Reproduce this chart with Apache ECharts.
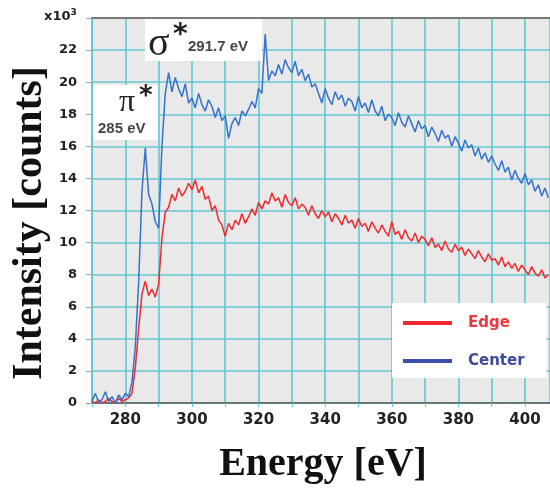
<!DOCTYPE html>
<html>
<head>
<meta charset="utf-8">
<script src="https://cdn.jsdelivr.net/npm/echarts@6/dist/echarts.min.js"></script>
<style>
html,body{margin:0;padding:0;background:#fff;}
#main{width:550px;height:488px;}
</style>
</head>
<body>
<div id="main"></div>
<script>
// Energy axis values (eV)
var energy = [270,271,272,273,274,275,276,277,278,279,280,281,282,283,284,285,286,287,288,289,
290,291,292,293,294,295,296,297,298,299,300,301,302,303,304,305,306,307,308,309,
310,311,312,313,314,315,316,317,318,319,320,321,322,323,324,325,326,327,328,329,
330,331,332,333,334,335,336,337,338,339,340,341,342,343,344,345,346,347,348,349,
350,351,352,353,354,355,356,357,358,359,360,361,362,363,364,365,366,367,368,369,
370,371,372,373,374,375,376,377,378,379,380,381,382,383,384,385,386,387,388,389,
390,391,392,393,394,395,396,397,398,399,400,401,402,403,404,405,406,407];

// Center intensity (x10^3 counts)
var center = [
0.1,0.6,0.0,0.2,0.7,0.1,0.4,0.0,0.5,0.2,
0.6,0.4,1.3,3.5,7.5,13.2,15.9,13.0,12.4,11.3,
10.9,16.0,19.3,20.6,19.4,20.3,19.6,19.1,19.9,18.7,
19.0,18.4,19.3,18.6,18.2,18.9,18.5,17.8,18.4,17.6,
17.9,16.5,17.4,17.8,17.3,18.2,17.9,18.3,18.8,18.4,
19.6,19.3,23.0,20.1,20.7,20.4,21.1,20.5,21.4,20.9,
20.6,21.3,20.4,20.8,20.1,20.5,19.7,19.9,19.3,18.7,
19.6,19.0,18.6,19.4,18.9,19.2,18.5,19.0,18.8,18.2,
19.1,18.4,18.7,18.1,18.9,18.2,17.9,18.5,17.6,18.0,
17.8,17.3,18.1,17.5,17.2,17.9,17.4,16.9,17.6,17.1,
17.3,16.6,17.2,16.8,16.3,17.0,16.5,16.7,16.0,16.6,
16.2,15.7,16.4,15.9,16.1,15.4,15.9,15.2,15.6,15.0,
15.4,14.9,14.5,15.1,14.4,14.7,13.9,14.5,14.0,13.7,
14.3,13.6,13.9,13.2,13.6,12.9,13.4,12.8];

// Edge intensity (x10^3 counts)
var edge = [
0.1,0.0,0.2,0.0,0.1,0.3,0.1,0.0,0.3,0.1,
0.2,0.3,0.6,2.2,4.6,6.8,7.6,6.7,7.1,6.6,
7.4,10.3,11.9,12.2,13.0,12.6,13.4,12.9,13.2,13.7,
13.3,13.9,13.1,13.5,12.7,12.9,12.0,12.3,11.4,11.1,
10.4,11.2,10.8,11.4,11.1,11.8,11.2,11.6,12.1,11.7,
12.5,12.1,12.6,12.4,13.1,12.6,12.8,12.2,13.0,12.5,
12.3,12.8,12.1,12.4,12.2,11.7,12.3,11.8,11.5,12.0,
11.6,11.9,11.3,11.8,11.5,11.1,11.7,11.2,11.4,10.9,
11.5,11.0,11.2,10.7,11.3,10.9,10.6,11.1,10.7,10.4,
11.3,10.5,10.7,10.2,10.8,10.3,10.1,10.6,10.0,10.4,
10.2,9.8,10.3,9.7,9.9,9.5,10.1,9.6,9.4,9.9,
9.5,9.7,9.2,9.6,9.3,9.0,9.5,9.1,8.8,9.3,
8.9,9.0,8.6,9.1,8.5,8.8,8.4,8.7,8.2,8.6,
8.3,8.0,8.5,8.1,7.9,8.3,7.8,8.0];

var seriesNames = ['Edge', 'Center'];
var xTickLabels = [280, 300, 320, 340, 360, 380, 400];
var yTickLabels = [0, 2, 4, 6, 8, 10, 12, 14, 16, 18, 20, 22];

function pairs(xs, ys) {
  var out = [];
  for (var i = 0; i < xs.length; i++) out.push([xs[i], ys[i]]);
  return out;
}

var grid = '#62c6d2';
var chart = echarts.init(document.getElementById('main'), null, {renderer: 'canvas'});
chart.setOption({
  animation: false,
  backgroundColor: '#ffffff',
  grid: {left: 92, right: 0, top: 18, bottom: 85, show: true, backgroundColor: '#e9e9e9', borderWidth: 0},
  legend: {
    orient: 'vertical', left: 392, top: 303,
    backgroundColor: '#ffffff',
    padding: [12, 22, 9, 11],
    itemWidth: 49, itemHeight: 4, itemGap: 22,
    icon: 'rect',
    data: [
      {name: seriesNames[0], textStyle: {color: '#e63a3f'}},
      {name: seriesNames[1], textStyle: {color: '#3d4a9e'}}
    ],
    textStyle: {fontFamily: 'DejaVu Sans', fontWeight: 'bold', fontSize: 15, lineHeight: 16, padding: [0, 0, 0, 11]}
  },
  xAxis: [{
    type: 'value', min: 270, max: 407.5, interval: 10,
    axisLine: {show: true, lineStyle: {color: '#5a5a5a', width: 1.5}},
    axisTick: {show: true, length: 4, lineStyle: {color: grid}},
    splitLine: {show: true, lineStyle: {color: grid, width: 1.6}},
    axisLabel: {
      margin: 10, color: '#222', fontFamily: 'DejaVu Sans', fontWeight: 'bold', fontSize: 15,
      showMinLabel: true, showMaxLabel: false,
      formatter: function (v) { return xTickLabels.indexOf(v) >= 0 ? String(v) : ''; }
    }
  }, {
    type: 'value', position: 'top', min: 270, max: 407.5,
    axisLine: {show: true, lineStyle: {color: '#7a7a7a', width: 2}},
    axisTick: {show: false}, axisLabel: {show: false}, splitLine: {show: false}
  }],
  yAxis: {
    type: 'value', min: 0, max: 24, interval: 2,
    axisLine: {show: true, lineStyle: {color: grid, width: 1.6}},
    axisTick: {show: true, length: 6, lineStyle: {color: '#8aa9ad'}},
    splitLine: {show: true, lineStyle: {color: grid, width: 1.6}},
    axisLabel: {
      margin: 15, color: '#222', fontFamily: 'DejaVu Sans', fontWeight: 'bold', fontSize: 13,
      formatter: function (v) { return yTickLabels.indexOf(v) >= 0 ? String(v) : ''; }
    }
  },
  series: [
    {name: seriesNames[0], type: 'line', data: pairs(energy, edge), showSymbol: false,
     lineStyle: {color: '#ee2a2e', width: 1.5}, itemStyle: {color: '#ee2a2e'}, z: 3},
    {name: seriesNames[1], type: 'line', data: pairs(energy, center), showSymbol: false,
     lineStyle: {color: '#3572c8', width: 1.5}, itemStyle: {color: '#3d4ea6'}, z: 4}
  ],
  graphic: [
    // sigma* annotation
    {type: 'rect', shape: {x: 145, y: 19, width: 117, height: 42}, style: {fill: '#ffffff'}, z: 50},
    {type: 'text', x: 148, y: 44, z: 51, style: {text: 'σ', font: '40px "Liberation Serif"', fill: '#222', verticalAlign: 'middle'}},
    {type: 'text', x: 173, y: 36, z: 51, style: {text: '*', font: 'bold 28px "DejaVu Sans"', fill: '#222', verticalAlign: 'middle'}},
    {type: 'text', x: 188, y: 47, z: 51, style: {text: '291.7 eV', font: 'bold 15px "Liberation Sans"', fill: '#444', verticalAlign: 'middle'}},
    // pi* annotation
    {type: 'rect', shape: {x: 93, y: 85, width: 65, height: 55}, style: {fill: '#ffffff'}, z: 50},
    {type: 'text', x: 119, y: 103, z: 51, style: {text: 'π', font: '32px "Liberation Serif"', fill: '#222', verticalAlign: 'middle'}},
    {type: 'text', x: 139, y: 97, z: 51, style: {text: '*', font: 'bold 26px "DejaVu Sans"', fill: '#222', verticalAlign: 'middle'}},
    {type: 'text', x: 98, y: 129, z: 51, style: {text: '285 eV', font: 'bold 15px "Liberation Sans"', fill: '#444', verticalAlign: 'middle'}},
    // unit label
    {type: 'text', x: 44, y: 17, z: 51, style: {
      text: 'x10{s|3}', font: 'bold 13px "DejaVu Sans"', fill: '#222', verticalAlign: 'middle',
      rich: {s: {fontSize: 9, fontWeight: 'bold', fontFamily: 'DejaVu Sans', verticalAlign: 'top', padding: [0, 0, 8, 0]}}
    }},
    // axis titles
    {type: 'text', x: 30, y: 223, rotation: Math.PI / 2, z: 51, style: {
      text: 'Intensity [counts]', font: 'bold 42px "Liberation Serif"', fill: '#111', align: 'center', verticalAlign: 'middle'}},
    {type: 'text', x: 323, y: 465, z: 51, style: {
      text: 'Energy [eV]', font: 'bold 40px "Liberation Serif"', fill: '#111', align: 'center', verticalAlign: 'middle'}}
  ]
});
</script>
</body>
</html>
